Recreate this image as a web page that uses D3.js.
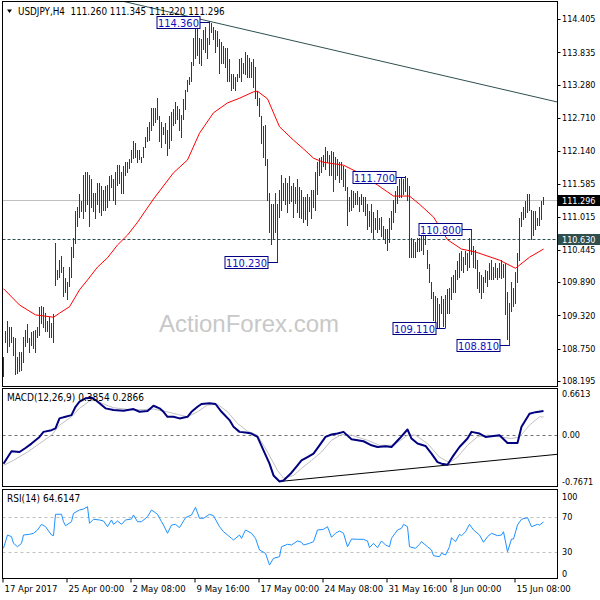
<!DOCTYPE html>
<html>
<head>
<meta charset="utf-8">
<script src="https://cdn.jsdelivr.net/npm/d3@7"></script>
<style>
  body { margin: 0; background: #fff; }
  svg { display: block; }
  text { font-family: "DejaVu Sans Condensed", "Liberation Sans", sans-serif; font-stretch: condensed; }
</style>
</head>
<body>
<script>
// ---- data ----
const symbol = 'USDJPY,H4';
const lastOHLC = ['111.260', '111.345', '111.220', '111.296'];

// H4 bars, high / low
const highs = [
  108.59, 109.04, 109.21, 109.12, 109.12, 108.95, 108.93, 108.59, 108.68, 108.69,
  108.95, 109.07, 109.16, 108.93, 109.02, 109.04, 109.07, 109.12, 109.45, 109.47,
  109.45, 109.36, 109.21, 109.29, 109.19, 109.33, 110.56, 110.10, 110.27, 110.34,
  110.15, 109.96, 109.89, 110.15, 110.48, 110.65, 111.10, 111.18, 111.39, 111.27,
  111.73, 111.77, 111.77, 111.73, 111.65, 111.42, 111.42, 111.59, 111.59, 111.53,
  111.47, 111.53, 111.56, 111.70, 111.73, 111.65, 111.78, 111.90, 111.90, 111.77,
  111.87, 111.94, 111.95, 111.99, 112.16, 112.30, 112.28, 112.16, 112.16, 112.04,
  112.21, 112.38, 112.54, 112.64, 112.88, 112.88, 112.88, 113.05, 112.73, 112.64,
  112.54, 112.62, 112.50, 112.73, 112.80, 112.85, 112.97, 112.90, 112.85, 112.76,
  113.02, 113.19, 113.36, 113.40, 113.67, 114.08, 114.27, 114.34, 114.08, 114.05,
  114.22, 114.27, 114.08, 114.36, 114.33, 114.26, 114.22, 114.19, 114.05, 114.01,
  113.93, 113.91, 113.91, 113.71, 113.45, 113.45, 113.41, 113.45, 113.71, 113.74,
  113.65, 113.84, 113.79, 113.74, 113.67, 113.71, 113.57, 113.16, 113.05, 112.73,
  112.56, 112.59, 111.99, 111.42, 111.22, 111.22, 111.42, 111.22, 111.47, 111.73,
  111.59, 111.68, 111.59, 111.70, 111.53, 111.59, 111.51, 111.65, 111.51, 111.47,
  111.35, 111.34, 111.39, 111.34, 111.47, 111.47, 111.78, 111.95, 112.02, 112.04,
  112.07, 112.21, 112.13, 112.07, 112.13, 112.11, 112.04, 111.99, 111.94, 111.94,
  111.87, 111.82, 111.51, 111.34, 111.47, 111.44, 111.42, 111.44, 111.35, 111.39,
  111.35, 111.34, 111.22, 111.10, 111.22, 111.08, 110.99, 111.13, 110.99, 111.01,
  110.84, 110.79, 110.79, 110.99, 111.10, 111.30, 111.44, 111.53, 111.65, 111.68,
  111.65, 111.70, 111.68, 111.53, 110.65, 110.62, 110.58, 110.65, 110.65, 110.70,
  110.67, 110.70, 110.44, 110.19, 109.89, 109.71, 109.64, 109.62, 109.50, 109.64,
  109.59, 109.67, 109.76, 109.79, 109.98, 110.01, 110.10, 110.24, 110.39, 110.41,
  110.32, 110.41, 110.39, 110.65, 110.80, 110.50, 110.44, 110.27, 110.05, 110.01,
  109.98, 110.10, 110.07, 110.22, 110.27, 110.15, 110.22, 110.13, 110.22, 110.27,
  110.19, 110.22, 109.71, 109.53, 109.88, 109.79, 110.05, 110.39, 110.99, 111.08,
  111.17, 111.27, 111.39, 111.39, 111.13, 111.10, 111.10, 110.99, 111.17, 111.27,
  111.345
];
const lows = [
  108.28, 108.85, 108.68, 108.78, 108.86, 108.64, 108.30, 108.33, 108.35, 108.38,
  108.52, 108.78, 108.85, 108.68, 108.81, 108.76, 108.68, 108.95, 108.98, 109.19,
  109.12, 109.04, 109.04, 108.95, 108.95, 108.85, 109.83, 109.93, 109.98, 110.05,
  109.64, 109.72, 109.59, 109.81, 109.98, 110.32, 110.56, 110.84, 111.01, 111.10,
  110.99, 111.10, 111.22, 110.84, 111.18, 111.10, 110.99, 111.22, 111.08, 111.04,
  111.13, 111.13, 111.17, 111.30, 111.51, 111.30, 111.22, 111.56, 111.59, 111.42,
  111.42, 111.73, 111.77, 111.85, 111.94, 112.02, 112.04, 111.94, 111.99, 111.95,
  112.04, 112.21, 112.30, 112.33, 112.50, 112.59, 112.64, 112.68, 112.30, 112.21,
  112.42, 112.28, 112.07, 112.19, 112.33, 112.59, 112.62, 112.68, 112.50, 112.38,
  112.68, 112.85, 113.16, 113.28, 113.33, 113.62, 113.74, 113.79, 113.65, 113.62,
  113.88, 113.83, 113.74, 113.97, 114.17, 114.05, 113.84, 113.93, 113.48, 113.65,
  113.65, 113.57, 113.33, 113.33, 113.19, 113.22, 113.19, 113.33, 113.41, 113.33,
  113.48, 113.45, 113.40, 113.41, 113.40, 113.24, 113.05, 112.93, 112.73, 112.28,
  112.04, 111.90, 111.30, 110.75, 110.53, 110.65, 110.74, 110.23, 111.01, 111.13,
  111.30, 111.22, 111.08, 111.25, 111.27, 111.01, 111.25, 111.08, 111.01, 110.99,
  110.91, 110.96, 110.87, 111.10, 110.99, 111.17, 111.13, 111.39, 111.73, 111.77,
  111.87, 111.82, 111.94, 111.73, 111.73, 111.44, 111.65, 111.73, 111.61, 111.65,
  111.53, 111.47, 110.87, 111.10, 111.13, 111.18, 111.22, 111.22, 111.10, 111.22,
  111.10, 111.04, 110.79, 110.84, 110.75, 110.65, 110.79, 110.74, 110.79, 110.67,
  110.62, 110.56, 110.44, 110.58, 110.79, 110.92, 111.08, 111.25, 111.35, 111.35,
  111.39, 111.44, 111.30, 110.31, 110.31, 110.32, 110.32, 110.41, 110.41, 110.44,
  110.36, 110.53, 110.13, 109.88, 109.62, 109.24, 109.12, 109.12, 109.12, 109.36,
  109.13, 109.11, 109.36, 109.36, 109.59, 109.71, 109.71, 109.93, 109.98, 110.10,
  110.05, 110.19, 110.10, 110.15, 110.36, 110.15, 110.13, 109.79, 109.72, 109.62,
  109.71, 109.88, 109.81, 109.93, 109.93, 109.93, 109.98, 109.93, 109.98, 109.96,
  109.98, 109.33, 108.90, 108.81, 109.38, 109.47, 109.53, 109.88, 110.27, 110.84,
  110.96, 111.01, 111.08, 111.13, 110.63, 110.70, 110.79, 110.87, 110.87, 110.96,
  111.22
];

// moving average (red), [bar, price]
const maPoints = [
  [0, 109.78], [8, 109.50], [16, 109.33], [25, 109.29], [28, 109.36], [33, 109.47], [38, 109.76],
  [42, 109.93], [47, 110.15], [52, 110.31], [57, 110.53], [62, 110.70], [67, 110.92], [75, 111.32],
  [85, 111.77], [92, 111.99], [98, 112.45], [105, 112.80], [112, 112.97], [118, 113.05], [125, 113.16],
  [127, 113.17], [132, 113.04], [138, 112.56], [145, 112.33], [150, 112.18], [155, 112.02], [160, 111.95],
  [170, 111.90], [177, 111.78], [187, 111.56], [195, 111.37], [203, 111.37], [208, 111.23], [215, 111.01],
  [222, 110.62], [229, 110.46], [236, 110.41], [248, 110.27], [256, 110.13], [263, 110.32], [270, 110.46]
];

// MACD(12,26,9) main line and signal, [bar, value]
const macdPoints = [
  [0, -0.476], [4, -0.274], [8, -0.286], [11, -0.220], [14, -0.148], [18, -0.039], [20, 0.043],
  [24, 0.071], [26, 0.099], [28, 0.263], [31, 0.289], [34, 0.317], [36, 0.453], [38, 0.535],
  [41, 0.591], [44, 0.601], [46, 0.563], [48, 0.509], [51, 0.427], [55, 0.399], [60, 0.388],
  [65, 0.415], [68, 0.371], [72, 0.383], [75, 0.470], [78, 0.427], [80, 0.371], [82, 0.289],
  [85, 0.289], [88, 0.263], [92, 0.289], [94, 0.371], [97, 0.453], [99, 0.498], [103, 0.509],
  [106, 0.498], [109, 0.371], [113, 0.235], [115, 0.125], [118, 0.043], [121, 0.033], [124, 0.016],
  [127, -0.039], [130, -0.258], [133, -0.476], [135, -0.668], [138, -0.767], [140, -0.750],
  [144, -0.624], [147, -0.504], [149, -0.422], [152, -0.368], [155, -0.312], [158, -0.176],
  [161, -0.039], [164, 0.000], [167, 0.016], [170, 0.043], [174, -0.077], [177, -0.094],
  [180, -0.110], [184, -0.176], [187, -0.204], [191, -0.192], [194, -0.204], [198, -0.066],
  [202, 0.082], [204, -0.066], [207, -0.148], [211, -0.187], [214, -0.312], [217, -0.450],
  [219, -0.476], [222, -0.493], [225, -0.340], [228, -0.204], [232, -0.066], [234, 0.043],
  [238, 0.016], [241, -0.039], [244, -0.028], [248, -0.011], [252, -0.138], [257, -0.138],
  [259, 0.125], [263, 0.340], [266, 0.365], [270, 0.385]
];
const signalPoints = [
  [0, -0.504], [5, -0.422], [12, -0.286], [18, -0.148], [24, -0.011], [28, 0.153], [34, 0.289],
  [38, 0.427], [43, 0.547], [46, 0.563], [50, 0.498], [55, 0.437], [65, 0.399], [75, 0.415],
  [80, 0.383], [87, 0.328], [92, 0.289], [97, 0.371], [102, 0.481], [107, 0.493], [112, 0.371],
  [117, 0.181], [122, 0.054], [127, -0.011], [132, -0.286], [137, -0.586], [140, -0.713],
  [145, -0.668], [149, -0.553], [154, -0.422], [159, -0.286], [164, -0.094], [169, 0.000],
  [174, -0.011], [182, -0.094], [188, -0.176], [195, -0.176], [202, -0.011], [206, -0.011],
  [212, -0.148], [218, -0.368], [223, -0.460], [227, -0.368], [232, -0.176], [237, -0.039],
  [242, -0.011], [248, -0.039], [254, -0.066], [258, -0.039], [263, 0.153], [268, 0.289], [270, 0.2866]
];

// RSI(14), [bar, value]
const rsiPoints = [
  [0, 34.5], [2, 49.7], [4, 47.8], [5, 40.2], [7, 36.3], [9, 40.2], [10, 49.7], [13, 50.5],
  [15, 51.7], [17, 55.4], [19, 61.9], [21, 59.2], [24, 49.7], [25, 48.9], [26, 73.4], [29, 73.4],
  [30, 64.9], [31, 60.3], [34, 64.9], [35, 74.5], [38, 78.3], [40, 79.4], [42, 82.1], [43, 63.1],
  [45, 67.7], [48, 66.9], [50, 65.7], [52, 59.2], [54, 66.9], [55, 61.9], [57, 65.7], [59, 61.9],
  [61, 66.9], [64, 68.0], [65, 72.6], [67, 64.9], [69, 64.9], [72, 70.6], [74, 78.3], [77, 73.4],
  [79, 64.9], [80, 61.1], [82, 51.7], [84, 61.1], [86, 61.9], [88, 58.1], [91, 69.5], [94, 72.6],
  [96, 81.4], [98, 68.8], [100, 68.8], [103, 73.4], [105, 71.8], [108, 59.2], [110, 53.5],
  [114, 45.9], [115, 44.0], [118, 49.7], [119, 45.9], [121, 55.4], [124, 51.7], [126, 45.9],
  [128, 32.6], [131, 28.8], [133, 15.4], [135, 23.1], [138, 24.9], [139, 36.3], [142, 39.1],
  [144, 38.3], [147, 42.9], [149, 41.4], [150, 38.3], [153, 40.2], [155, 42.1], [157, 55.4],
  [160, 56.2], [162, 59.2], [164, 47.1], [166, 51.7], [168, 54.3], [170, 51.7], [172, 36.3],
  [174, 45.1], [177, 44.8], [180, 44.8], [182, 42.9], [183, 35.2], [185, 40.2], [187, 35.2],
  [189, 42.9], [191, 38.3], [193, 36.3], [194, 45.9], [197, 55.4], [199, 57.4], [200, 61.9],
  [202, 59.2], [203, 36.3], [206, 34.5], [208, 39.1], [209, 42.1], [212, 36.3], [214, 32.6],
  [215, 26.1], [218, 24.9], [219, 28.8], [221, 26.9], [223, 36.3], [224, 46.6], [226, 42.1],
  [228, 50.5], [229, 48.9], [231, 53.5], [233, 61.9], [235, 55.4], [238, 49.7], [240, 41.4],
  [242, 47.8], [244, 51.7], [247, 48.9], [249, 49.7], [250, 53.5], [252, 30.6], [254, 45.1],
  [255, 45.1], [257, 61.1], [259, 67.7], [262, 69.5], [264, 59.2], [267, 61.9], [268, 61.1], [270, 64.6]
];

const priceTicks = [114.405, 113.835, 113.280, 112.710, 112.140, 111.585, 111.015, 110.445, 109.890, 109.320, 108.750, 108.195];
const macdTicks = [0.6613, 0, -0.7671];
const macdTickText = ['0.6613', '0.00', '-0.7671'];
const rsiTicks = [100, 70, 30, 0];
const rsiLevels = [70, 30];
const timeTicks = [0, 32, 64, 96, 128, 160, 192, 224, 256];
const timeLabels = ['17 Apr 2017', '25 Apr 00:00', '2 May 08:00', '9 May 16:00', '17 May 00:00',
  '24 May 08:00', '31 May 16:00', '8 Jun 00:00', '15 Jun 08:00'];

// swing high/low labels: [bar, price]
const swingLabels = [[103, 114.36], [137, 110.23], [201, 111.70], [221, 109.11], [234, 110.80], [253, 108.81]];
const priceTrend = [[103, 114.37], [270, 113.04]];
const macdTrend = [[138, -0.767], [277, -0.323]];
const bidPrice = 111.296;
const supportLevel = 110.630;
const macdText = 'MACD(12,26,9) 0.3854 0.2866';
const rsiText = 'RSI(14) 64.6147';

// ---- layout ----
const width = 600, height = 600;
const left = 2.5, right = 557.5;
const mainTop = 1.5, mainBottom = 386.5;
const macdTop = 388.5, macdBottom = 486.5;
const rsiTop = 489.5, rsiBottom = 578.5;

const x = d3.scaleLinear().domain([0, 270]).range([3.5, 543.5]);
const y = d3.scaleLinear().domain([108.195, 114.405]).range([381, 19.3]);
const yMacd = d3.scaleLinear().domain([-0.7671, 0.6613]).range([481.5, 394]);
const yRsi = d3.scaleLinear().domain([0, 100]).range([rsiBottom, 491]);

const svg = d3.select('body').append('svg')
  .attr('width', width)
  .attr('height', height)
  .style('font-size', '9px');

const defs = svg.append('defs');
[['clipMain', mainTop, mainBottom], ['clipMacd', macdTop, macdBottom], ['clipRsi', rsiTop, rsiBottom]]
  .forEach(c => {
    defs.append('clipPath').attr('id', c[0]).append('rect')
      .attr('x', left).attr('y', c[1]).attr('width', right - left).attr('height', c[2] - c[1]);
  });

// extend a two point line to given bar range
function extend(pts, i0, i1) {
  const k = (pts[1][1] - pts[0][1]) / (pts[1][0] - pts[0][0]);
  return [[i0, pts[0][1] + k * (i0 - pts[0][0])], [i1, pts[0][1] + k * (i1 - pts[0][0])]];
}

//---- main panel ----
const main = svg.append('g').attr('clip-path', 'url(#clipMain)');

main.append('text')
  .attr('x', 249).attr('y', 332)
  .attr('text-anchor', 'middle')
  .style('font-family', '"Liberation Sans", Arial, sans-serif')
  .style('font-stretch', 'normal')
  .style('font-size', '24px')
  .attr('fill', '#c8c8c8')
  .text('ActionForex.com');

main.append('line')
  .attr('x1', left).attr('x2', right)
  .attr('y1', Math.round(y(bidPrice)) + 0.5).attr('y2', Math.round(y(bidPrice)) + 0.5)
  .attr('stroke', '#c0c0c0');

main.append('line')
  .attr('x1', left).attr('x2', right)
  .attr('y1', Math.round(y(supportLevel)) + 0.5).attr('y2', Math.round(y(supportLevel)) + 0.5)
  .attr('stroke', '#2f4f4f')
  .attr('stroke-dasharray', '3,2');

main.append('path')
  .datum(extend(priceTrend, 0, 280))
  .attr('fill', 'none')
  .attr('stroke', '#2f4f4f')
  .attr('d', d3.line().x(d => x(d[0])).y(d => y(d[1])));

main.append('g')
  .selectAll('line')
  .data(highs)
  .join('line')
  .attr('x1', (d, i) => x(i)).attr('x2', (d, i) => x(i))
  .attr('y1', d => y(d) - 0.5)
  .attr('y2', (d, i) => y(lows[i]) + 0.5)
  .attr('stroke', '#1b4159')
  .attr('shape-rendering', 'crispEdges');

main.append('path')
  .datum(maPoints)
  .attr('fill', 'none')
  .attr('stroke', '#ff0000')
  .attr('stroke-width', 1)
  .attr('d', d3.line().x(d => x(d[0])).y(d => y(d[1])));

// swing labels
const swing = main.append('g').selectAll('g').data(swingLabels).join('g');
swing.append('line')
  .attr('x1', d => x(d[0]) - 9.5).attr('x2', d => x(d[0]))
  .attr('y1', d => Math.round(y(d[1])) + 0.5).attr('y2', d => Math.round(y(d[1])) + 0.5)
  .attr('stroke', '#000080');
swing.append('rect')
  .attr('x', d => x(d[0]) - 52.5)
  .attr('y', d => Math.round(y(d[1])) - 5.5)
  .attr('width', 43).attr('height', 12)
  .attr('fill', '#fff')
  .attr('stroke', '#000080');
swing.append('text')
  .attr('x', d => x(d[0]) - 31)
  .attr('y', d => Math.round(y(d[1])) + 4.5)
  .attr('text-anchor', 'middle')
  .style('font-size', '11px')
  .attr('fill', '#1010c0')
  .text(d => d[1].toFixed(3));

// header
svg.append('path')
  .attr('d', 'M7,9.5 L12,9.5 L9.5,13 Z')
  .attr('fill', '#000');
svg.append('text')
  .attr('x', 18).attr('y', 14.5)
  .attr('fill', '#000')
  .attr('xml:space', 'preserve')
  .style('font-size', '9.8px')
  .text(symbol + '  ' + lastOHLC.join(' '));

// right price axis
const rAxis = svg.append('g');
rAxis.selectAll('line').data(priceTicks).join('line')
  .attr('x1', right).attr('x2', right + 3)
  .attr('y1', d => Math.round(y(d)) + 0.5).attr('y2', d => Math.round(y(d)) + 0.5)
  .attr('stroke', '#000');
rAxis.selectAll('text').data(priceTicks).join('text')
  .attr('x', 562).attr('y', d => y(d))
  .attr('dy', '0.35em')
  .text(d => d.toFixed(3));

// current bid and level boxes
[[bidPrice, '#000000'], [supportLevel, '#2f4f4f']].forEach(b => {
  const yy = Math.round(y(b[0]));
  svg.append('rect')
    .attr('x', 558).attr('y', yy - 5).attr('width', 42).attr('height', 11)
    .attr('fill', b[1]);
  svg.append('text')
    .attr('x', 562).attr('y', yy + 0.5).attr('dy', '0.35em')
    .attr('fill', '#fff')
    .text(b[0].toFixed(3));
});

//---- MACD panel ----
const macdG = svg.append('g').attr('clip-path', 'url(#clipMacd)');
macdG.append('line')
  .attr('x1', left).attr('x2', right)
  .attr('y1', Math.round(yMacd(0)) + 0.5).attr('y2', Math.round(yMacd(0)) + 0.5)
  .attr('stroke', '#707070').attr('stroke-dasharray', '3,3');
macdG.append('path')
  .datum(extend(macdTrend, 138, 280))
  .attr('fill', 'none').attr('stroke', '#000')
  .attr('d', d3.line().x(d => x(d[0])).y(d => yMacd(d[1])));
macdG.append('path')
  .datum(signalPoints)
  .attr('fill', 'none').attr('stroke', '#c0c0c0')
  .attr('d', d3.line().x(d => x(d[0])).y(d => yMacd(d[1])));
macdG.append('path')
  .datum(macdPoints)
  .attr('fill', 'none').attr('stroke', '#000080').attr('stroke-width', 2)
  .attr('stroke-linejoin', 'round')
  .attr('d', d3.line().x(d => x(d[0])).y(d => yMacd(d[1])));
svg.append('text').attr('x', 7).attr('y', 401).style('font-size', '10px').text(macdText);
svg.append('g').selectAll('text').data(macdTicks).join('text')
  .attr('x', 562).attr('y', d => yMacd(d)).attr('dy', '0.35em')
  .text((d, i) => macdTickText[i]);

//---- RSI panel ----
const rsiG = svg.append('g').attr('clip-path', 'url(#clipRsi)');
rsiG.selectAll('line').data(rsiLevels).join('line')
  .attr('x1', left).attr('x2', right)
  .attr('y1', d => Math.round(yRsi(d)) + 0.5).attr('y2', d => Math.round(yRsi(d)) + 0.5)
  .attr('stroke', '#c0c0c0').attr('stroke-dasharray', '3,3');
rsiG.append('path')
  .datum(rsiPoints)
  .attr('fill', 'none').attr('stroke', '#1e90ff')
  .attr('d', d3.line().x(d => x(d[0])).y(d => yRsi(d[1])));
svg.append('text').attr('x', 7).attr('y', 502).style('font-size', '10px').text(rsiText);
svg.append('g').selectAll('text').data(rsiTicks).join('text')
  .attr('x', 562)
  .attr('y', d => Math.min(Math.max(yRsi(d), 496.5), 573.5))
  .attr('dy', '0.35em')
  .text(d => d);

// panel frames
[[mainTop, mainBottom], [macdTop, macdBottom], [rsiTop, rsiBottom]].forEach(p => {
  svg.append('rect')
    .attr('x', left).attr('y', p[0])
    .attr('width', right - left).attr('height', p[1] - p[0])
    .attr('fill', 'none').attr('stroke', '#000');
});

// time axis
const tAxis = svg.append('g');
tAxis.selectAll('line').data(timeTicks).join('line')
  .attr('x1', d => x(d) - 0.5).attr('x2', d => x(d) - 0.5)
  .attr('y1', rsiBottom).attr('y2', rsiBottom + 4)
  .attr('stroke', '#000');
tAxis.selectAll('text').data(timeTicks).join('text')
  .attr('x', d => x(d) + 1)
  .attr('y', 592)
  .style('font-size', '9.5px')
  .text((d, i) => timeLabels[i]);
</script>
</body>
</html>
